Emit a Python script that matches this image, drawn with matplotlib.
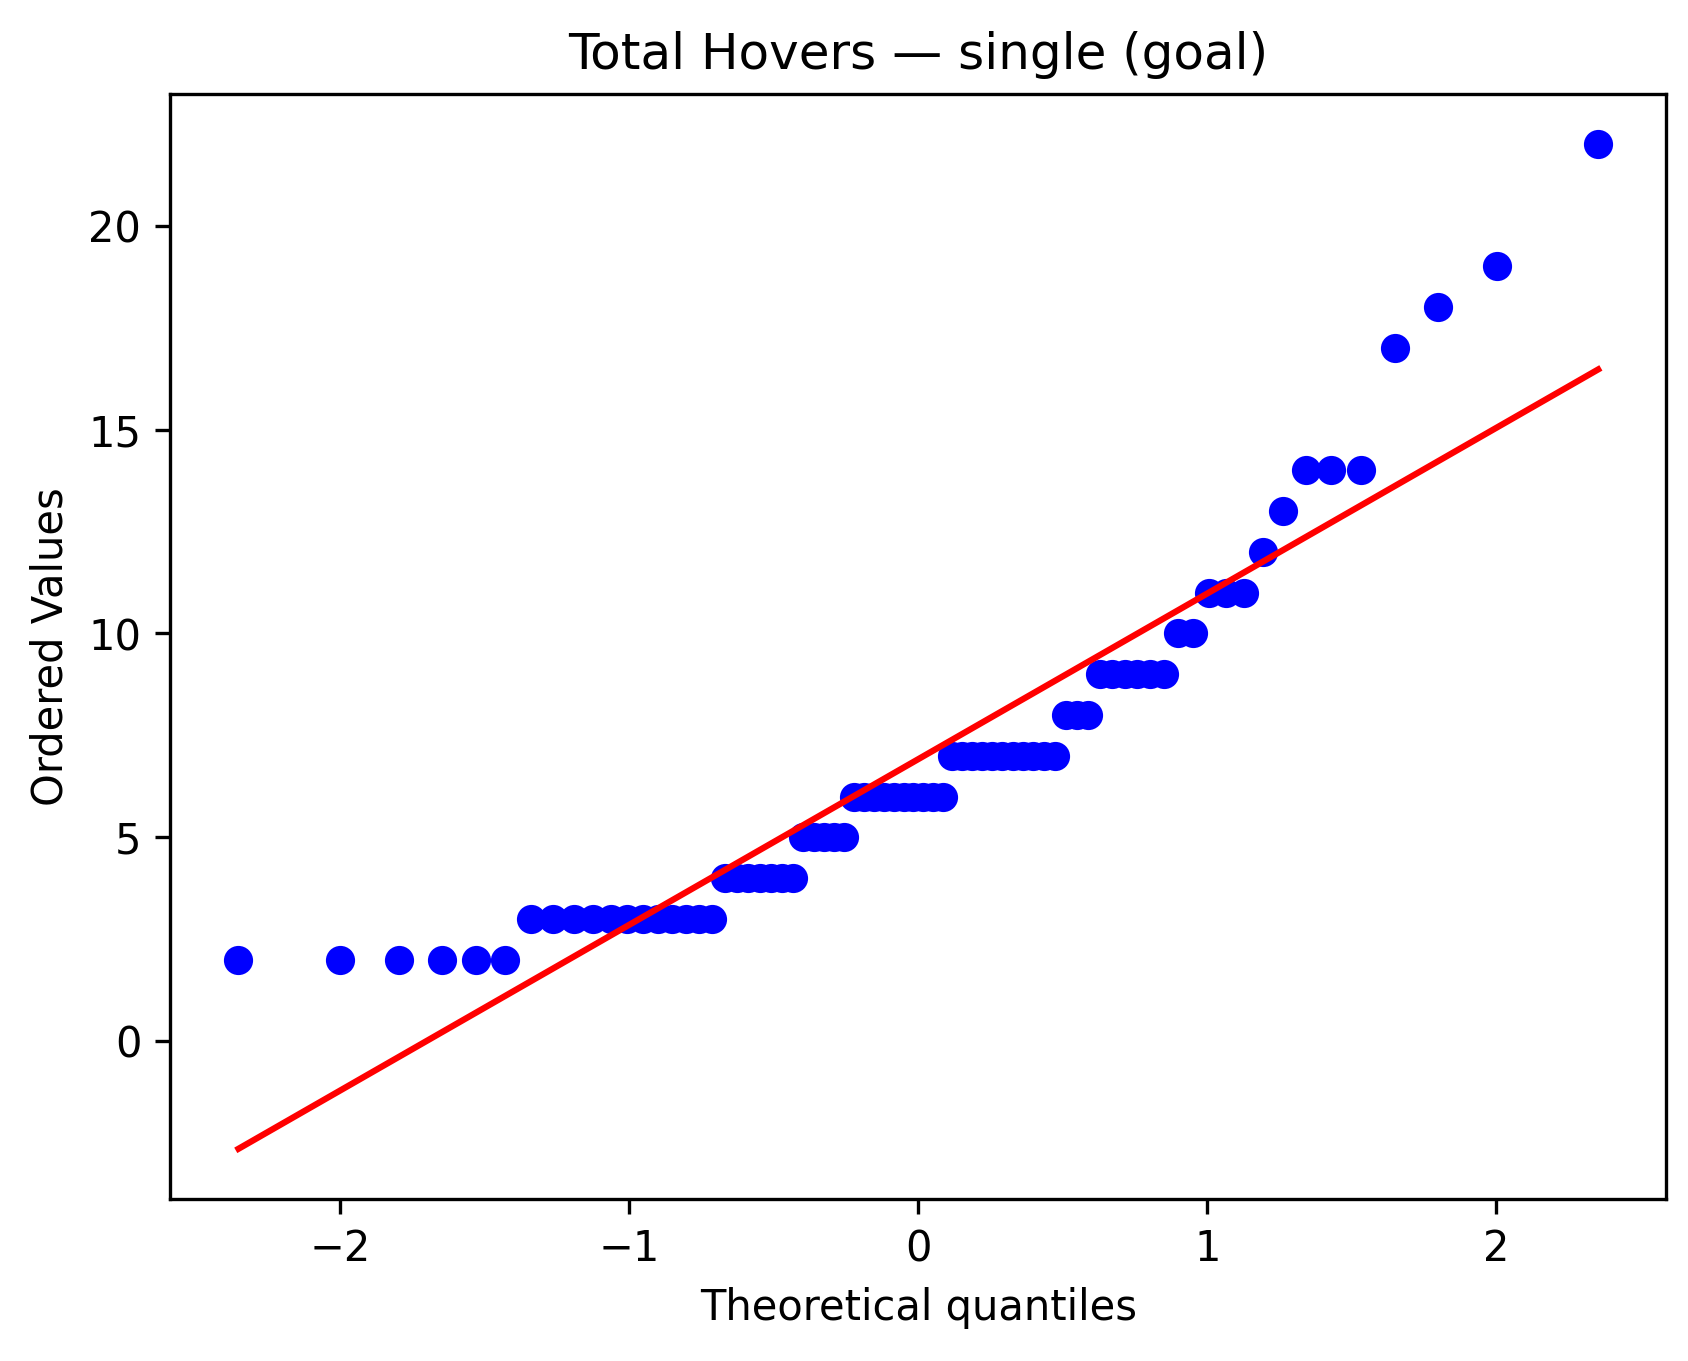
import math
import numpy as np
import matplotlib
matplotlib.use("Agg")
import matplotlib.pyplot as plt

# values and how many times each appears
values = [2, 3, 4, 5, 6, 7, 8, 9, 10, 11, 12, 13, 14, 17, 18, 19, 22]
counts = [6, 12, 7, 5, 10, 11, 3, 6, 2, 3, 1, 1, 3, 1, 1, 1, 1]

data = np.sort(np.repeat(values, counts)).astype(float)
n = len(data)


def norm_ppf(p):
    lo, hi = -10.0, 10.0
    for _ in range(100):
        mid = 0.5 * (lo + hi)
        if 0.5 * (1 + math.erf(mid / math.sqrt(2))) < p:
            lo = mid
        else:
            hi = mid
    return 0.5 * (lo + hi)


# Filliben order statistic medians (as in scipy.stats.probplot)
m = np.empty(n)
m[-1] = 0.5 ** (1.0 / n)
m[0] = 1 - m[-1]
i = np.arange(2, n)
m[1:-1] = (i - 0.3175) / (n + 0.365)
osm = np.array([norm_ppf(p) for p in m])

slope, intercept = np.polyfit(osm, data, 1)

fig = plt.figure(figsize=(5.627, 4.537), dpi=300)
ax = fig.add_axes([0.101, 0.119, 0.886, 0.812])
ax.plot(osm, data, "bo")
ax.plot(osm, slope * osm + intercept, "r-")
ax.set_title("Total Hovers — single (goal)")
ax.set_xlabel("Theoretical quantiles")
ax.set_ylabel("Ordered Values")
fig.savefig("out.png", dpi=300)
